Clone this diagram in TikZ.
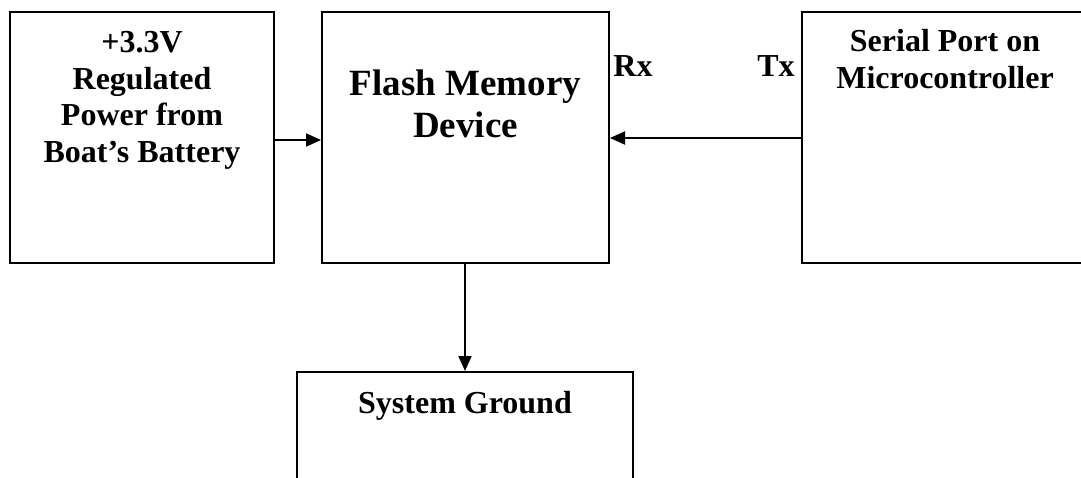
\documentclass[tikz,border=0pt]{standalone}
\usepackage{fontspec}
\setmainfont{Liberation Serif}
\usetikzlibrary{arrows.meta}
\begin{document}
\begin{tikzpicture}[x=0.5pt,y=-0.5pt,
  blockbox/.style={draw, line width=1pt, inner sep=0pt, minimum width=#1, minimum height=125.5pt},
  lbl/.style={align=center, font=\fontsize{16}{18.2}\selectfont\bfseries, inner sep=0pt, anchor=base},
  biglbl/.style={align=center, font=\fontsize{18.5}{21}\selectfont\bfseries, inner sep=0pt, anchor=base},
  conn/.style={-{Triangle[length=7.5pt,width=6.5pt]}, line width=1pt}]
\useasboundingbox (0,0) rectangle (1081,477);
\clip (0,0) rectangle (1081,477);
% boxes
\node[blockbox=132pt] (pwr) at (142,137.5) {};
\node[blockbox=143.5pt] (flash) at (465.5,137.5) {};
\node[blockbox=143pt] (mcu) at (945,137.5) {};
\node[draw, line width=1pt, inner sep=0pt, minimum width=168pt, minimum height=74pt] (gnd) at (465,446) {};
% texts (base anchor = baseline of the last line)
\node[lbl] (pwrtxt) at (142,162) {+3.3V\\Regulated\\Power from\\Boat’s Battery};
\node[biglbl] (flashtxt) at (465.5,137) {Flash Memory\\Device};
\node[lbl] (mcutxt) at (945,88) {Serial Port on\\Microcontroller};
\node[lbl] (gndtxt) at (465,413) {System Ground};
\node[lbl, anchor=base west] (rx) at (613,76) {Rx};
\node[lbl, anchor=base east] (tx) at (795,76) {Tx};
% connectors
\draw[conn] (pwr.east |- 0,140) -- (flash.west |- 0,140);
\draw[conn] (mcu.west |- 0,138) -- (flash.east |- 0,138);
\draw[conn] (flash.south -| 465,0) -- (gnd.north);
\end{tikzpicture}
\end{document}
